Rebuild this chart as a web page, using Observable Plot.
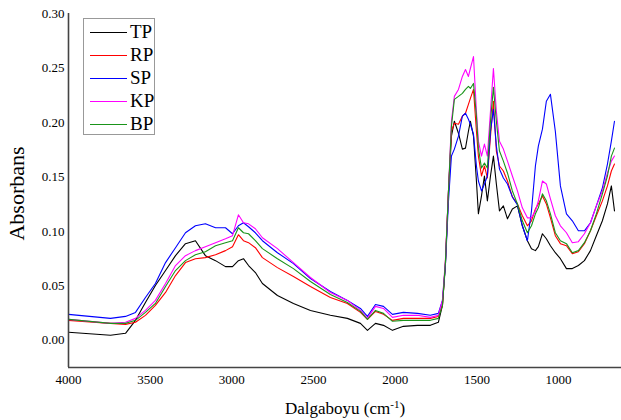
<!DOCTYPE html>
<html>
<head>
<meta charset="utf-8">
<script src="https://cdn.jsdelivr.net/npm/d3@7"></script>
<script src="https://cdn.jsdelivr.net/npm/@observablehq/plot@0.6"></script>
<style>
  body { margin: 0; background: #fff; }
  #wrap { position: relative; width: 621px; height: 420px; font-family: "Liberation Serif", serif; }
  #wrap svg, #wrap svg text, #wrap svg tspan { font-family: "Liberation Serif", serif !important; }
  #legend { position: absolute; left: 83px; top: 18px; width: 72px; height: 117px; border: 1px solid #999; background: #fff; box-sizing: border-box; }
  .row { position: absolute; left: 6px; height: 22px; display: flex; align-items: center; font-size: 19px; color: #000; }
  .row span.sw { display: inline-block; width: 37px; height: 0; border-top: 1.5px solid; margin-right: 3px; }
</style>
</head>
<body>
<div id="wrap"></div>
<script>
// Wavenumber (cm-1)
const wavenumber = [4000,3743,3651,3590,3529,3468,3406,3345,3284,3223,
  3162,3100,3039,2996,2960,2929,2898,2856,2813,2721,
  2623,2519,2397,2293,2213,2170,2121,2072,2017,1950,
  1864,1785,1736,1711,1693,1674,1656,1638,1613,1589,
  1570,1552,1540,1521,1503,1491,1472,1454,1436,1417,
  1399,1381,1362,1338,1313,1283,1252,1222,1191,1166,
  1142,1124,1099,1075,1050,1020,989,952,916,879,
  842,805,769,732,701,677,658];

const seriesNames = ["TP", "RP", "SP", "KP", "BP"];
const seriesColors = ["#000000", "#ff0000", "#0000ff", "#ff00ff", "#1a941a"];

const TP = [.0073,.0046,.0064,.0183,.0347,.0503,.0640,.0777,.0887,.0914,
  .0777,.0731,.0676,.0676,.0731,.0749,.0686,.0622,.0521,.0411,
  .0338,.0274,.0229,.0201,.0155,.0091,.0155,.0137,.0091,.0128,
  .0137,.0137,.0165,.0320,.0686,.1371,.1874,.2011,.1901,.1755,
  .1764,.1919,.2011,.1874,.1462,.1161,.1325,.1508,.1280,.1508,
  .1691,.1435,.1188,.1234,.1115,.1206,.1234,.1051,.0914,.0841,
  .0823,.0859,.0978,.0932,.0868,.0804,.0749,.0658,.0658,.0686,
  .0731,.0823,.0960,.1097,.1252,.1417,.1188];

const RP = [.0183,.0155,.0146,.0165,.0229,.0320,.0439,.0594,.0713,.0749,
  .0759,.0786,.0823,.0859,.0969,.0914,.0896,.0850,.0759,.0667,
  .0585,.0494,.0393,.0338,.0256,.0192,.0265,.0238,.0183,.0201,
  .0201,.0201,.0219,.0320,.0713,.1371,.1919,.1993,.1983,.2057,
  .2084,.2166,.2221,.2303,.1919,.1691,.1508,.1600,.1490,.1874,
  .2194,.1737,.1600,.1554,.1462,.1316,.1252,.1143,.1051,.1097,
  .1206,.1252,.1325,.1252,.1124,.0960,.0887,.0868,.0795,.0813,
  .0887,.1005,.1143,.1280,.1417,.1554,.1618];

const SP = [.0238,.0201,.0219,.0256,.0393,.0521,.0713,.0850,.0987,.1051,
  .1069,.1033,.1033,.0978,.1051,.1079,.1042,.0987,.0914,.0804,
  .0704,.0567,.0448,.0366,.0292,.0219,.0329,.0311,.0238,.0256,
  .0247,.0229,.0247,.0366,.0686,.1280,.1691,.1755,.1874,.2057,
  .2084,.2029,.1983,.1892,.1600,.1462,.1371,.1435,.1508,.1919,
  .2120,.1782,.1572,.1490,.1435,.1316,.1243,.1051,.0914,.1188,
  .1600,.1782,.1938,.2194,.2258,.1919,.1417,.1161,.1097,.1005,
  .1005,.1079,.1234,.1398,.1618,.1828,.2011];

const KP = [.0192,.0155,.0165,.0201,.0274,.0366,.0521,.0686,.0777,.0823,
  .0859,.0896,.0932,.0960,.1152,.1079,.1069,.1024,.0941,.0841,
  .0713,.0576,.0439,.0366,.0274,.0201,.0311,.0292,.0210,.0229,
  .0229,.0210,.0229,.0366,.0731,.1371,.2011,.2239,.2303,.2422,
  .2486,.2422,.2495,.2605,.2102,.1828,.1691,.1801,.1691,.2102,
  .2495,.2102,.1828,.1755,.1645,.1508,.1371,.1216,.1124,.1124,
  .1188,.1280,.1462,.1435,.1298,.1143,.1051,.0987,.0896,.0905,
  .0978,.1079,.1234,.1371,.1536,.1645,.1691];

const BP = [.0192,.0155,.0155,.0183,.0256,.0338,.0494,.0640,.0731,.0786,
  .0813,.0868,.0896,.0914,.1033,.0987,.0978,.0914,.0841,.0749,
  .0658,.0539,.0420,.0347,.0265,.0192,.0274,.0247,.0174,.0183,
  .0183,.0183,.0201,.0320,.0713,.1371,.1965,.2212,.2239,.2267,
  .2303,.2331,.2312,.2358,.2057,.1764,.1581,.1627,.1581,.2011,
  .2322,.2011,.1737,.1645,.1536,.1371,.1252,.1097,.0987,.1051,
  .1161,.1216,.1344,.1280,.1161,.0987,.0914,.0887,.0804,.0823,
  .0896,.1005,.1161,.1344,.1508,.1691,.1764];

const xTicks = [4000, 3500, 3000, 2500, 2000, 1500, 1000];
const yTicks = [0, 0.05, 0.10, 0.15, 0.20, 0.25, 0.30];
const xLabel = "Dalgaboyu (cm-1)";
const yLabel = "Absorbans";
const xDomain = [4000, 615];
const yDomain = [-0.025, 0.30];

const serif = "'Liberation Serif', serif";

const values = [TP, RP, SP, KP, BP];
const data = [];
seriesNames.forEach((name, i) => {
  wavenumber.forEach((w, j) => data.push({series: name, w, a: values[i][j]}));
});

const chart = Plot.plot({
  width: 621,
  height: 420,
  marginLeft: 68,
  marginRight: 0,
  marginTop: 13,
  marginBottom: 53,
  style: {fontFamily: serif, fontSize: "13px", color: "#000", background: "#fff"},
  x: {domain: xDomain, ticks: xTicks, tickSize: 0, tickPadding: 7, tickFormat: d3.format("d"), label: null},
  y: {domain: yDomain, ticks: yTicks, tickSize: 0, tickPadding: 4, tickFormat: d3.format(".2f"), label: null},
  color: {domain: seriesNames, range: seriesColors},
  marks: [
    Plot.lineY(data, {x: "w", y: "a", z: "series", stroke: "series", strokeWidth: 1.1}),
    Plot.ruleX([xDomain[0]], {stroke: "#444", strokeWidth: 1.6}),
    Plot.ruleY([yDomain[0]], {stroke: "#444", strokeWidth: 1.6}),
    Plot.text([xLabel], {frameAnchor: "bottom", dy: 41, lineAnchor: "middle", textAnchor: "middle", fontSize: 17, fontFamily: serif, fill: "#000"}),
    Plot.text([yLabel], {frameAnchor: "left", dx: -52, dy: 3, rotate: -90, lineAnchor: "middle", textAnchor: "middle", fontSize: 22, fontFamily: serif, fill: "#000"})
  ]
});

const wrap = document.getElementById("wrap");
wrap.appendChild(chart);

// superscript for cm-1
const t = [...chart.querySelectorAll("text")].find(e => e.textContent === xLabel);
if (t) {
  const ns = "http://www.w3.org/2000/svg";
  while (t.firstChild) t.removeChild(t.firstChild);
  const a = document.createElementNS(ns, "tspan"); a.textContent = "Dalgaboyu (cm";
  const b = document.createElementNS(ns, "tspan"); b.textContent = "-1"; b.setAttribute("dy", "-6"); b.setAttribute("font-size", "11");
  const c = document.createElementNS(ns, "tspan"); c.textContent = ")"; c.setAttribute("dy", "6");
  t.appendChild(a); t.appendChild(b); t.appendChild(c);
}

// legend
const legend = document.createElement("div");
legend.id = "legend";
seriesNames.forEach((name, i) => {
  const row = document.createElement("div");
  row.className = "row";
  row.style.top = (2 + i * 23) + "px";
  const sw = document.createElement("span");
  sw.className = "sw";
  sw.style.borderTopColor = seriesColors[i];
  row.appendChild(sw);
  row.appendChild(document.createTextNode(name));
  legend.appendChild(row);
});
wrap.appendChild(legend);
</script>
</body>
</html>
